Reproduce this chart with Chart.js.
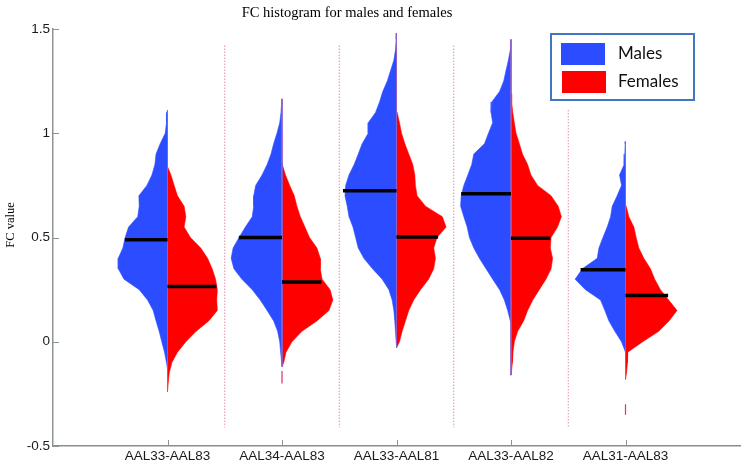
<!DOCTYPE html>
<html>
<head>
<meta charset="utf-8">
<script src="https://cdn.jsdelivr.net/npm/chart.js@4.4.1/dist/chart.umd.min.js"></script>
<style>
html,body{margin:0;padding:0;background:#fff;}
#wrap{width:741px;height:462px;position:relative;}
</style>
</head>
<body>
<div id="wrap"><canvas id="c" width="741" height="462"></canvas></div>
<script>
// ---------- DATA ----------
const categories = ['AAL33-AAL83', 'AAL34-AAL83', 'AAL33-AAL81', 'AAL33-AAL82', 'AAL31-AAL83'];
const seriesNames = ['Males', 'Females'];
const yTickValues = [-0.5, 0, 0.5, 1, 1.5];

// FC value levels at which the half-widths of the histograms are read
const levels = [1.50,1.45,1.40,1.35,1.30,1.25,1.20,1.15,1.10,1.05,1.00,0.95,0.90,0.85,0.80,0.75,0.70,0.65,0.60,0.55,0.50,0.45,0.40,0.35,0.30,0.25,0.20,0.15,0.10,0.05,0.00,-0.05,-0.10,-0.15,-0.20,-0.25,-0.30,-0.35];

// half-width of each histogram (in category units) at each level
const males1   = [0,0,0,0,0,0,0,0,0.005,0.009,0.02,0.064,0.10,0.11,0.136,0.18,0.25,0.247,0.26,0.34,0.37,0.39,0.43,0.43,0.38,0.247,0.174,0.125,0.10,0.073,0.05,0.026,0.009,0,0,0,0,0];
const females1 = [0,0,0,0,0,0,0,0,0,0,0,0,0,0.003,0.03,0.058,0.087,0.145,0.16,0.145,0.20,0.29,0.35,0.39,0.42,0.435,0.43,0.435,0.36,0.25,0.16,0.087,0.038,0.015,0.006,0,0,0];
const males2   = [0,0,0,0,0,0,0,0.003,0.009,0.02,0.044,0.073,0.096,0.13,0.174,0.23,0.247,0.247,0.26,0.32,0.375,0.427,0.444,0.42,0.35,0.26,0.19,0.13,0.073,0.038,0.02,0.012,0.003,0,0,0,0,0];
const females2 = [0,0,0,0,0,0,0,0,0,0,0,0,0,0.003,0.03,0.067,0.107,0.13,0.16,0.20,0.24,0.305,0.334,0.334,0.35,0.42,0.444,0.41,0.305,0.174,0.087,0.035,0.015,0,0,0,0,0];
const males3   = [0,0.003,0.009,0.023,0.052,0.081,0.12,0.148,0.183,0.247,0.247,0.30,0.334,0.37,0.415,0.444,0.45,0.43,0.415,0.38,0.357,0.334,0.285,0.21,0.125,0.067,0.038,0.023,0.015,0.009,0.003,0,0,0,0,0,0,0];
const females3 = [0,0,0,0,0,0,0,0,0.006,0.026,0.044,0.073,0.107,0.142,0.16,0.165,0.18,0.253,0.40,0.433,0.354,0.325,0.34,0.325,0.28,0.21,0.15,0.107,0.078,0.049,0.026,0.009,0,0,0,0,0,0];
const males4   = [0,0,0.006,0.023,0.044,0.064,0.10,0.168,0.174,0.16,0.197,0.232,0.325,0.343,0.377,0.412,0.435,0.44,0.412,0.383,0.363,0.325,0.276,0.218,0.16,0.10,0.058,0.029,0.006,0,0,0,0,0,0,0,0,0];
const females4 = [0,0,0,0,0,0,0,0.006,0.015,0.029,0.044,0.073,0.10,0.145,0.174,0.232,0.35,0.412,0.44,0.406,0.35,0.343,0.363,0.35,0.305,0.247,0.19,0.145,0.11,0.058,0.029,0.017,0.012,0.003,0,0,0,0];
const males5   = [0,0,0,0,0,0,0,0,0,0,0,0.003,0.006,0.012,0.052,0.035,0.073,0.116,0.13,0.16,0.197,0.232,0.247,0.377,0.44,0.35,0.218,0.18,0.145,0.093,0.035,0.006,0,0,0,0,0,0];
const females5 = [0,0,0,0,0,0,0,0,0,0,0,0,0,0,0,0,0,0.006,0.029,0.073,0.093,0.116,0.16,0.218,0.255,0.305,0.377,0.45,0.38,0.29,0.15,0.02,0.017,0.009,0,0,0,0];

// data range of each histogram
const maleMax   = [1.11, 1.165, 1.48, 1.45, 0.96];
const maleMin   = [-0.13, -0.11, -0.02, 0.09, -0.05];
const femaleMax = [0.84, 0.857, 1.105, 1.19, 0.657];
const femaleMin = [-0.24, -0.12, -0.03, -0.16, -0.18];

// isolated low female values [top, bottom] (null if none)
const femaleOutliers = [null, [-0.14, -0.20], null, null, [-0.30, -0.35]];

// central markers (black bars)
const maleMedian   = [0.489, 0.500, 0.724, 0.710, 0.345];
const femaleMedian = [0.265, 0.286, 0.502, 0.497, 0.222];
const maleMedianWidth   = [0.372, 0.377, 0.467, 0.435, 0.392];
const femaleMedianWidth = [0.427, 0.343, 0.363, 0.343, 0.372];

// dotted separators between groups [top, bottom]
const separatorTop    = [1.42, 1.42, 1.42, 1.11];
const separatorBottom = [-0.41, -0.41, -0.41, -0.41];

// ---------- BUILD ----------
const BLUE = '#2b4cff';
const RED = '#ff0000';
const maleWidths = [males1, males2, males3, males4, males5];
const femaleWidths = [females1, females2, females3, females4, females5];

function halfShape(c, widths, top, bottom, side) {
  const pts = [{x: c, y: top}];
  levels.forEach((lv, i) => {
    if (lv < top && lv > bottom) pts.push({x: c + side * widths[i], y: lv});
  });
  pts.push({x: c, y: bottom});
  return pts;
}

const datasets = [];
categories.forEach((cat, i) => {
  const c = i + 1;
  datasets.push({
    label: seriesNames[0], data: halfShape(c, maleWidths[i], maleMax[i], maleMin[i], -1),
    backgroundColor: BLUE, borderColor: BLUE, borderWidth: 0.6, fill: 'shape',
    pointRadius: 0, tension: 0, order: 5
  });
  datasets.push({
    label: seriesNames[1], data: halfShape(c, femaleWidths[i], femaleMax[i], femaleMin[i], 1),
    backgroundColor: RED, borderColor: RED, borderWidth: 0.6, fill: 'shape',
    pointRadius: 0, tension: 0, order: 5
  });
  datasets.push({
    label: 'axis', data: [{x: c, y: Math.max(maleMax[i], femaleMax[i])}, {x: c, y: Math.min(maleMin[i], femaleMin[i])}],
    borderColor: '#8e5fc8', borderWidth: 1, fill: false, pointRadius: 0, order: 3
  });
  if (femaleOutliers[i]) {
    datasets.push({
      label: 'outlier', data: [{x: c, y: femaleOutliers[i][0]}, {x: c, y: femaleOutliers[i][1]}],
      borderColor: '#e03060', borderWidth: 1.2, fill: false, pointRadius: 0, order: 3
    });
  }
  datasets.push({
    label: 'male centre', data: [{x: c - maleMedianWidth[i], y: maleMedian[i]}, {x: c, y: maleMedian[i]}],
    borderColor: '#000', borderWidth: 3.5, borderCapStyle: 'butt', fill: false, pointRadius: 0, order: 1
  });
  datasets.push({
    label: 'female centre', data: [{x: c, y: femaleMedian[i]}, {x: c + femaleMedianWidth[i], y: femaleMedian[i]}],
    borderColor: '#000', borderWidth: 3.5, borderCapStyle: 'butt', fill: false, pointRadius: 0, order: 1
  });
});
separatorTop.forEach((t, k) => {
  const xs = k + 1.5;
  datasets.push({
    label: 'separator', data: [{x: xs, y: t}, {x: xs, y: separatorBottom[k]}],
    borderColor: '#d0587a', borderWidth: 1, borderDash: [1, 2], fill: false, pointRadius: 0, order: 6
  });
});

const decor = {
  id: 'decor',
  afterDraw(chart) {
    const ctx = chart.ctx;
    const xs = chart.scales.x, ys = chart.scales.y;
    const area = chart.chartArea;
    ctx.save();
    // inward tick marks
    ctx.strokeStyle = '#8c9590';
    ctx.lineWidth = 1;
    categories.forEach((_, i) => {
      const px = Math.round(xs.getPixelForValue(i + 1)) + 0.5;
      ctx.beginPath(); ctx.moveTo(px, area.bottom); ctx.lineTo(px, area.bottom - 6); ctx.stroke();
    });
    yTickValues.forEach(v => {
      const py = Math.round(ys.getPixelForValue(v)) + 0.5;
      ctx.beginPath(); ctx.moveTo(area.left, py); ctx.lineTo(area.left + 6, py); ctx.stroke();
    });
    // title
    ctx.fillStyle = '#000';
    ctx.font = '14.5px "Liberation Serif", "Times New Roman", serif';
    ctx.textAlign = 'center';
    ctx.textBaseline = 'middle';
    ctx.fillText('FC histogram for males and females', 347, 13);
    // y label
    ctx.save();
    ctx.translate(11, 225);
    ctx.rotate(-Math.PI / 2);
    ctx.font = '12.5px "Liberation Serif", "Times New Roman", serif';
    ctx.fillText('FC value', 0, 0);
    ctx.restore();
    // legend
    ctx.fillStyle = '#fff';
    ctx.fillRect(551, 34, 143, 66);
    ctx.strokeStyle = '#4275c2';
    ctx.lineWidth = 2;
    ctx.strokeRect(551, 34, 143, 66);
    ctx.fillStyle = BLUE;
    ctx.fillRect(561, 43, 44, 22);
    ctx.fillStyle = RED;
    ctx.fillRect(562, 71, 44, 22);
    ctx.fillStyle = '#111';
    ctx.font = '17px Lato, "Open Sans", sans-serif';
    ctx.textAlign = 'left';
    ctx.textBaseline = 'middle';
    ctx.fillText(seriesNames[0], 618, 54);
    ctx.fillText(seriesNames[1], 618, 82);
    ctx.restore();
  }
};

new Chart(document.getElementById('c'), {
  type: 'line',
  data: { datasets },
  options: {
    responsive: false,
    animation: false,
    events: [],
    layout: { padding: { top: 29, right: 1, left: 0, bottom: 0 } },
    plugins: { legend: { display: false }, tooltip: { enabled: false }, title: { display: false } },
    scales: {
      x: {
        type: 'linear', min: 0, max: 6,
        grid: { display: false, drawTicks: false },
        border: { display: true, color: '#8c8c8c', width: 1.5 },
        afterBuildTicks: (s) => { s.ticks = categories.map((_, i) => ({ value: i + 1 })); },
        afterFit: (s) => { s.height = 16; },
        ticks: {
          autoSkip: false, maxRotation: 0, padding: 2, color: '#1a1a1a',
          font: { family: '"Liberation Sans", Arial, sans-serif', size: 13.5 },
          callback: (v) => categories[Math.round(v) - 1] || ''
        }
      },
      y: {
        type: 'linear', min: -0.5, max: 1.5,
        grid: { display: false, drawTicks: false },
        border: { display: true, color: '#8c9590', width: 1.5 },
        afterBuildTicks: (s) => { s.ticks = yTickValues.map(v => ({ value: v })); },
        afterFit: (s) => { s.width = 53; },
        ticks: {
          padding: 3, color: '#1a1a1a',
          font: { family: '"Liberation Sans", Arial, sans-serif', size: 13.5 },
          callback: (v) => String(v)
        }
      }
    }
  },
  plugins: [decor]
});
</script>
</body>
</html>
